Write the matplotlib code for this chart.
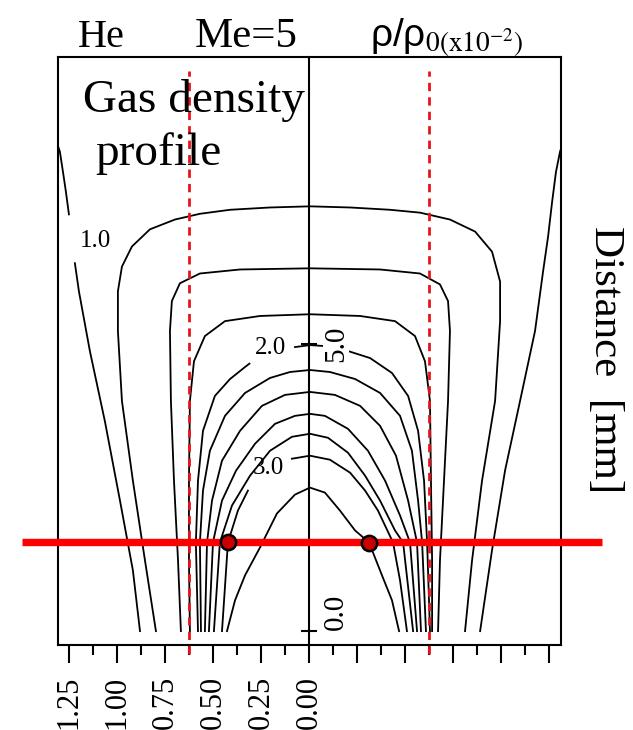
import numpy as np
import matplotlib.pyplot as plt

plt.rcParams['font.family'] = ['Liberation Serif', 'DejaVu Serif']
plt.rcParams['mathtext.fontset'] = 'stix'

# contour traces: x = radial position, y = distance [mm]
c10_left = [(-1.307, 8.45), (-1.297, 8.35), (-1.281, 8.00), (-1.266, 7.66), (-1.25, 7.26)]
c10_left_low = [(-1.219, 6.41), (-1.198, 5.92), (-1.141, 4.88), (-1.063, 3.66),
                (-0.984, 2.27), (-0.917, 1.06), (-0.880, 0.0)]
c10_right = [(1.312, 8.40), (1.307, 8.35), (1.286, 8.00), (1.266, 7.48), (1.245, 6.875),
             (1.219, 6.27), (1.177, 5.23), (1.099, 4.01), (1.021, 2.80), (0.953, 1.41),
             (0.891, 0.0)]
c12 = [(-0.797, 0.0), (-0.854, 1.23), (-0.917, 2.62), (-0.974, 4.01), (-0.995, 5.23),
       (-0.995, 5.92), (-0.974, 6.35), (-0.922, 6.70), (-0.828, 7.00), (-0.698, 7.17),
       (-0.568, 7.27), (-0.411, 7.34), (-0.203, 7.38), (0.005, 7.40), (0.214, 7.38),
       (0.422, 7.34), (0.578, 7.29), (0.734, 7.17), (0.865, 6.96), (0.953, 6.61),
       (0.995, 6.09), (0.995, 5.40), (0.969, 4.01), (0.901, 2.62), (0.849, 1.23),
       (0.8125, 0.0)]
c14 = [(-0.667, 0.0), (-0.682, 1.23), (-0.703, 2.62), (-0.719, 4.01), (-0.724, 5.23),
       (-0.714, 5.75), (-0.672, 6.06), (-0.568, 6.23), (-0.359, 6.30), (0.005, 6.32),
       (0.370, 6.30), (0.578, 6.23), (0.682, 6.04), (0.724, 5.75), (0.734, 5.23),
       (0.724, 4.01), (0.703, 2.62), (0.682, 1.23), (0.672, 0.0)]
c16 = [(-0.620, 0.0), (-0.625, 1.23), (-0.625, 2.62), (-0.620, 4.01), (-0.599, 4.70),
       (-0.542, 5.14), (-0.4375, 5.40), (-0.255, 5.49), (0.005, 5.52), (0.266, 5.49),
       (0.448, 5.40), (0.552, 5.14), (0.604, 4.70), (0.630, 4.01), (0.635, 2.62),
       (0.641, 1.23), (0.641, 0.0)]
c20_left = [(-0.578, 0.0), (-0.589, 1.545), (-0.578, 2.622), (-0.552, 3.49), (-0.49, 4.097),
            (-0.411, 4.392), (-0.333, 4.601), (-0.31, 4.66)]
c20_right = [(-0.073, 4.948), (0.005, 4.983), (0.083, 4.965), (0.1875, 4.896), (0.318, 4.757),
             (0.432, 4.497), (0.516, 4.097), (0.568, 3.49), (0.599, 2.622), (0.615, 1.545),
             (0.630, 0.0)]
c22 = [(-0.5625, 0.0), (-0.568, 1.545), (-0.552, 2.448), (-0.516, 3.142), (-0.4375, 3.75),
       (-0.333, 4.149), (-0.203, 4.41), (-0.099, 4.514), (0.005, 4.549), (0.109, 4.514),
       (0.240, 4.392), (0.370, 4.149), (0.474, 3.75), (0.536, 3.142), (0.568, 2.274),
       (0.589, 1.545), (0.609, 0.0)]
c24 = [(-0.542, 0.0), (-0.531, 1.545), (-0.505, 2.274), (-0.453, 2.969), (-0.359, 3.49),
       (-0.245, 3.924), (-0.125, 4.115), (0.005, 4.167), (0.135, 4.115), (0.266, 3.924),
       (0.370, 3.576), (0.453, 3.056), (0.516, 2.274), (0.5625, 1.545), (0.583, 0.0)]
c26 = [(-0.521, 0.0), (-0.5, 1.545), (-0.453, 2.274), (-0.380, 2.795), (-0.281, 3.264),
       (-0.177, 3.611), (-0.073, 3.75), (0.005, 3.785), (0.083, 3.75), (0.203, 3.524),
       (0.307, 3.142), (0.396, 2.622), (0.474, 2.014), (0.526, 1.545), (0.5625, 0.0)]
c28 = [(-0.495, 0.0), (-0.464, 1.545), (-0.401, 2.188), (-0.307, 2.708), (-0.203, 3.142),
       (-0.089, 3.385), (0.005, 3.438), (0.099, 3.368), (0.203, 3.108), (0.292, 2.708),
       (0.370, 2.274), (0.448, 1.753), (0.490, 1.545), (0.542, 0.0)]
c30_left = [(-0.453, 0.0), (-0.422, 1.545), (-0.370, 2.101), (-0.318, 2.448)]
c30_right = [(-0.089, 3.003), (0.005, 3.056), (0.109, 2.986), (0.214, 2.760), (0.292, 2.448),
             (0.359, 2.101), (0.4375, 1.545), (0.474, 0.885), (0.510, 0.0)]
c32 = [(-0.427, 0.0), (-0.385, 0.538), (-0.333, 0.972), (-0.255, 1.458), (-0.167, 2.049),
       (-0.073, 2.378), (0.005, 2.5), (0.083, 2.413), (0.161, 2.101), (0.240, 1.753),
       (0.3125, 1.545), (0.380, 0.972), (0.432, 0.538), (0.469, 0.0)]

contours = [c10_left, c10_left_low, c10_right, c12, c14, c16, c20_left, c20_right,
            c22, c24, c26, c28, c30_left, c30_right, c32]

contour_labels = ['1.0', '2.0', '3.0']
contour_label_x = [-1.11, -0.20, -0.21]
contour_label_y = [6.79, 4.93, 2.85]

nozzle_x = [-0.625, 0.625]        # red dashed lines
nozzle_y = [-0.4, 9.75]
cut_x = [-1.495, 1.526]           # red horizontal line
cut_y = 1.55
point_x = [-0.422, 0.3125]
point_y = [1.55, 1.54]

xmajor = np.arange(-1.25, 1.26, 0.25)
xminor = np.arange(-1.125, 1.2, 0.25)
xlabels = ['1.25', '1.00', '0.75', '0.50', '0.25', '0.00', '', '', '', '', '']
yticks = [0.0, 5.0]
ylabels = ['0.0', '5.0']
ylabel_shift = [14, 0]            # points, the 0.0 label sits above its tick

fig = plt.figure(figsize=(6.33, 7.30), dpi=100)
ax = fig.add_axes([0.0916, 0.1158, 0.7946, 0.806])
ax.set_xlim(-1.307, 1.312)
ax.set_ylim(-0.25, 10.0)

for c in contours:
    xs, ys = zip(*c)
    ax.plot(xs, ys, color='black', lw=1.3)

for s, x, y in zip(contour_labels, contour_label_x, contour_label_y):
    ax.text(x, y, s, fontsize=18, ha='center', va='center')

for x in nozzle_x:
    ax.plot([x, x], nozzle_y, color='#e8141c', lw=2.0, dashes=(3.0, 2.2), clip_on=False, zorder=4)

ax.plot(cut_x, [cut_y, cut_y], color='#ff0000', lw=5.3, solid_capstyle='butt', clip_on=False, zorder=5)
ax.plot(point_x, point_y, 'o', ms=11, mfc='#c80000', mec='black', mew=1.8, clip_on=False, zorder=6)

# frame, with the y axis running up the centre
for sp in ax.spines.values():
    sp.set_linewidth(1.5)
ax.spines['right'].set_position(('data', 0))
ax.plot([1, 1], [0, 1], transform=ax.transAxes, color='black', lw=1.5, clip_on=False)

ax.yaxis.set_ticks_position('right')
ax.set_yticks(yticks)
ax.set_yticklabels([])
ax.tick_params(axis='y', direction='inout', length=12, width=1.5)
for s, y, dy in zip(ylabels, yticks, ylabel_shift):
    ax.annotate(s, (0, y), xytext=(10, dy), textcoords='offset points', rotation=90,
                ha='left', va='center', fontsize=21,
                bbox=dict(facecolor='white', edgecolor='none', pad=0), zorder=3)

ax.set_xticks(xmajor)
ax.set_xticks(xminor, minor=True)
ax.set_xticklabels(xlabels, rotation=90)
ax.tick_params(axis='x', which='major', direction='out', length=13, width=1.5, labelsize=22, pad=9)
ax.tick_params(axis='x', which='minor', direction='out', length=7, width=1.5)

fig.text(0.123, 0.936, 'He', fontsize=29)
fig.text(0.308, 0.936, 'Me=5', fontsize=31)
fig.text(0.585, 0.936, r'ρ/ρ$_{0(\mathrm{x}10^{-2})}$', fontsize=28, family='Liberation Sans')
fig.text(0.131, 0.847, 'Gas density', fontsize=34)
fig.text(0.150, 0.774, 'profile', fontsize=34)
fig.text(0.956, 0.507, 'Distance  [mm]', rotation=-90, fontsize=31, ha='center', va='center')

fig.savefig('out.png', dpi=100)
